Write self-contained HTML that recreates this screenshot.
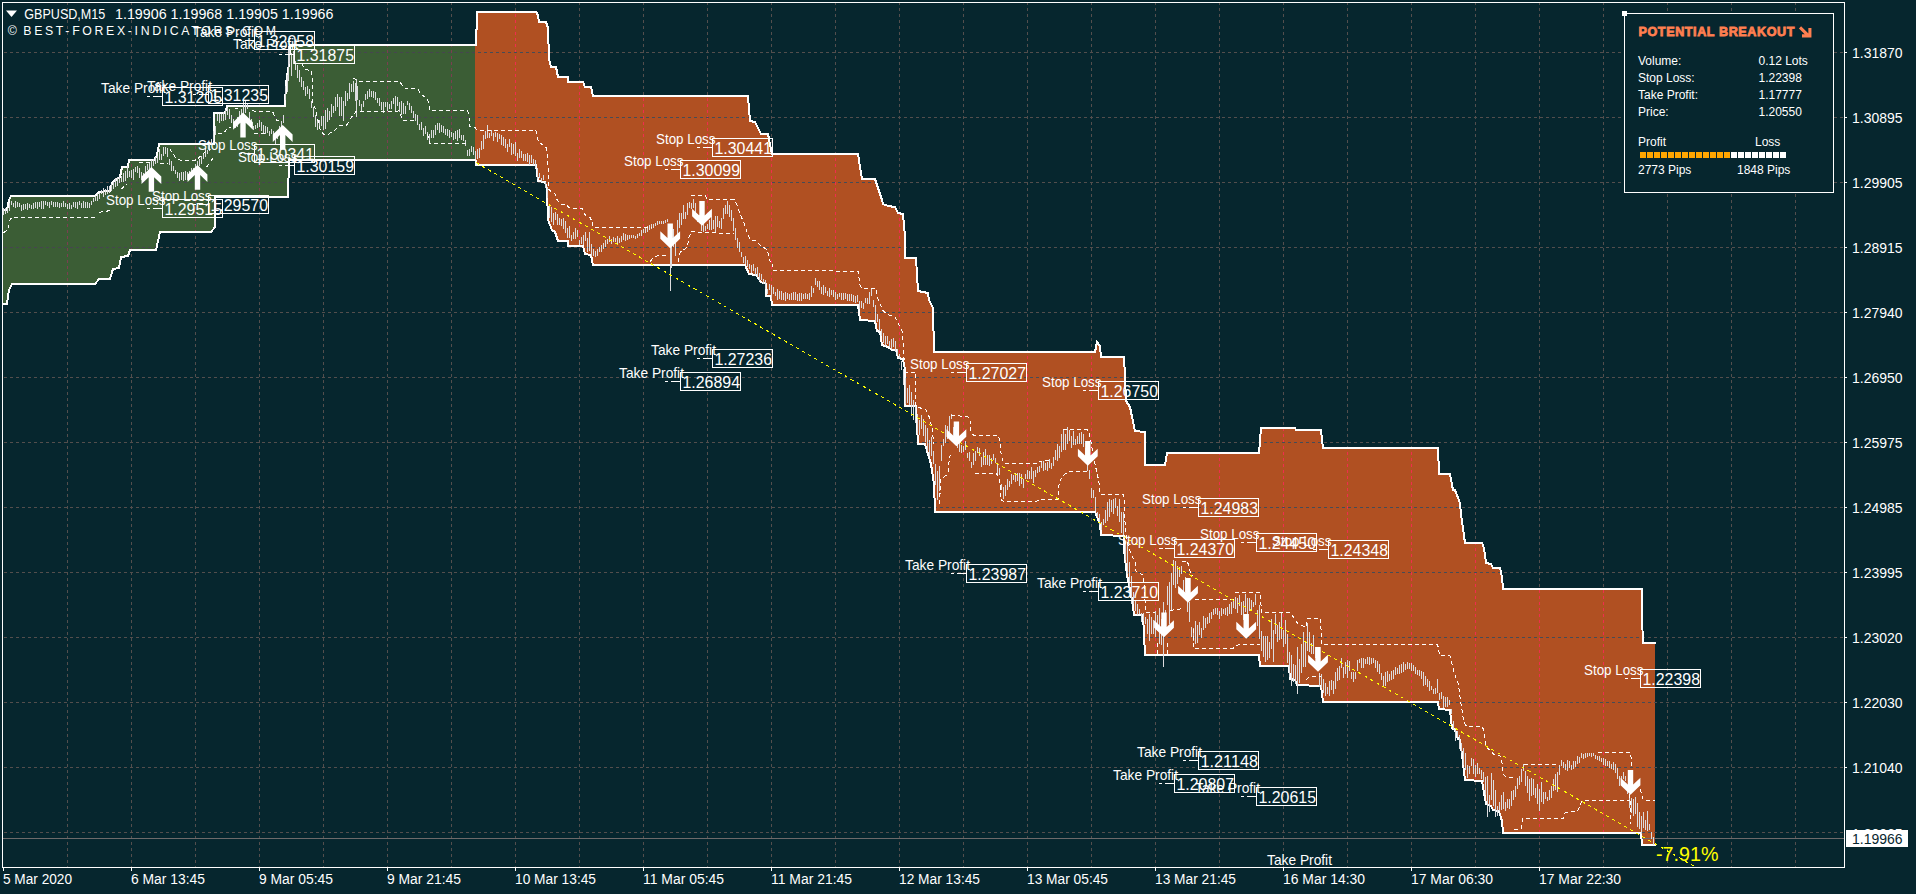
<!DOCTYPE html>
<html lang="en"><head><meta charset="utf-8"><title>GBPUSD M15 chart</title>
<style>
html,body{margin:0;padding:0;background:#06262e;}
body{width:1916px;height:894px;overflow:hidden;position:relative;font-family:"Liberation Sans", sans-serif;}
svg text{white-space:pre;}
</style></head><body>
<svg width="1916" height="894" viewBox="0 0 1916 894" style="position:absolute;left:0;top:0;display:block" font-family='"Liberation Sans", sans-serif'>
<defs>
<clipPath id="cg"><polygon points="3.0,209.8 7.0,209.8 9.4,200.4 11.0,196.4 94.7,196.4 98.7,191.7 109.6,191.0 112.0,183.0 114.0,181.0 120.0,176.8 121.6,166.8 128.0,166.8 129.4,160.5 154.4,160.5 156.6,155.0 158.7,144.2 214.2,144.2 214.2,113.0 225.2,113.0 226.6,106.2 285.1,106.2 286.5,82.8 288.7,63.8 289.5,45.0 475.0,45.0 475.0,160.0 289.2,160.0 288.3,196.7 215.0,196.7 215.0,226.7 211.3,231.8 160.1,231.8 156.5,249.7 130.0,249.7 127.6,256.0 121.4,256.7 119.0,268.5 112.7,269.3 110.4,278.7 98.7,278.7 94.7,284.1 11.7,284.1 9.4,289.6 7.0,303.7 3.0,304.5"/></clipPath>
<clipPath id="co"><polygon points="475.0,45.0 476.0,45.0 476.0,30.0 477.0,29.0 477.0,12.0 535.6,12.0 538.0,15.0 539.0,21.8 545.7,21.8 547.9,27.7 549.0,58.7 550.7,67.0 555.7,67.0 558.3,77.2 567.5,77.2 568.3,81.7 583.4,81.7 585.0,87.2 591.0,87.2 592.7,96.0 748.2,96.0 749.0,109.0 750.0,120.8 755.0,121.6 760.8,134.2 767.5,134.2 769.2,139.3 772.5,153.7 857.8,153.7 859.8,166.8 861.5,178.9 874.9,179.4 881.6,200.3 883.3,203.7 888.3,206.2 895.0,207.0 897.5,213.4 903.4,213.8 904.8,237.2 905.1,258.2 916.0,258.2 917.7,290.9 927.8,292.6 929.4,300.0 932.8,308.4 934.5,352.0 1095.0,352.0 1097.0,342.0 1100.1,346.0 1100.9,357.0 1123.6,357.0 1125.3,377.2 1126.1,400.7 1129.5,407.4 1132.0,417.4 1135.3,430.9 1144.6,432.0 1145.2,465.4 1165.3,465.4 1167.0,453.4 1259.3,453.4 1260.9,428.5 1295.3,428.5 1296.1,430.2 1321.3,430.2 1323.0,447.8 1437.5,447.8 1438.9,474.5 1449.5,474.5 1452.9,489.6 1455.4,490.5 1459.6,503.1 1461.2,514.0 1464.6,543.3 1482.2,543.3 1483.9,547.5 1485.6,562.6 1490.6,564.3 1493.1,568.5 1499.8,568.5 1502.3,576.8 1503.2,588.9 1641.6,588.9 1642.4,617.1 1643.0,643.0 1655.0,643.0 1655.0,845.0 1641.6,845.0 1640.8,833.4 1503.2,833.4 1502.3,820.8 1499.0,810.7 1493.1,809.9 1490.6,805.7 1485.6,804.0 1482.2,781.4 1464.6,780.5 1462.1,755.4 1459.6,740.3 1457.9,738.6 1455.4,730.2 1452.0,728.5 1449.5,710.0 1438.6,709.2 1437.8,701.7 1323.0,701.8 1321.3,685.5 1297.0,685.0 1295.3,680.0 1290.3,679.2 1288.6,665.8 1260.1,665.8 1259.3,654.9 1145.2,654.9 1142.7,615.4 1134.3,614.6 1131.7,600.3 1126.7,575.2 1124.2,550.0 1123.6,535.6 1101.2,535.0 1100.3,524.2 1095.3,512.4 935.1,512.4 934.2,483.9 930.9,463.8 925.0,444.0 917.5,443.6 915.8,405.9 905.1,405.7 905.1,370.5 902.6,358.7 897.5,357.9 895.9,350.3 891.7,350.3 888.3,347.0 882.4,345.3 879.9,331.9 877.4,331.0 874.9,321.0 859.8,320.1 858.1,305.0 771.5,305.0 771.0,296.3 765.8,295.5 765.5,284.2 760.8,282.5 755.8,275.0 749.0,274.2 744.9,264.9 592.7,264.9 591.0,254.9 585.1,254.0 583.4,245.6 568.3,245.6 567.5,241.4 558.3,241.4 554.9,232.2 551.5,230.5 548.2,220.5 547.3,190.3 544.8,181.9 538.1,181.0 535.6,165.1 476.0,165.0 476.0,161.0 475.0,160.0"/></clipPath>
<clipPath id="cc"><rect x="3" y="3" width="1841" height="864"/></clipPath>
<path id="ad" d="M-2.7,0H2.7V14.6L9.9,7.7V15.2L0,24.8L-9.9,15.2V7.7L-2.7,14.6Z" fill="#fff"/>
<path id="au" d="M-2.7,0H2.7V-14.6L9.9,-7.7V-15.2L0,-24.8L-9.9,-15.2V-7.7L-2.7,-14.6Z" fill="#fff"/>
</defs>
<rect width="1916" height="894" fill="#06262e"/>
<g shape-rendering="crispEdges" fill="none" stroke-width="1" stroke-dasharray="3,3"><path d="M67.5,2V867M131.5,2V867M195.5,2V867M259.5,2V867M323.5,2V867M387.5,2V867M451.5,2V867M515.5,2V867M579.5,2V867M643.5,2V867M707.5,2V867M771.5,2V867M835.5,2V867M899.5,2V867M963.5,2V867M1027.5,2V867M1091.5,2V867M1155.5,2V867M1219.5,2V867M1283.5,2V867M1347.5,2V867M1411.5,2V867M1475.5,2V867M1539.5,2V867M1603.5,2V867M1667.5,2V867M1731.5,2V867M1795.5,2V867" stroke="#534e4d"/><path d="M4,52.5H1844M4,117.5H1844M4,182.5H1844M4,247.5H1844M4,312.5H1844M4,377.5H1844M4,442.5H1844M4,507.5H1844M4,572.5H1844M4,637.5H1844M4,702.5H1844M4,767.5H1844M4,832.5H1844" stroke="#534e4d"/></g>
<polygon points="3.0,209.8 7.0,209.8 9.4,200.4 11.0,196.4 94.7,196.4 98.7,191.7 109.6,191.0 112.0,183.0 114.0,181.0 120.0,176.8 121.6,166.8 128.0,166.8 129.4,160.5 154.4,160.5 156.6,155.0 158.7,144.2 214.2,144.2 214.2,113.0 225.2,113.0 226.6,106.2 285.1,106.2 286.5,82.8 288.7,63.8 289.5,45.0 475.0,45.0 475.0,160.0 289.2,160.0 288.3,196.7 215.0,196.7 215.0,226.7 211.3,231.8 160.1,231.8 156.5,249.7 130.0,249.7 127.6,256.0 121.4,256.7 119.0,268.5 112.7,269.3 110.4,278.7 98.7,278.7 94.7,284.1 11.7,284.1 9.4,289.6 7.0,303.7 3.0,304.5" fill="#3b5d35"/>
<polygon points="475.0,45.0 476.0,45.0 476.0,30.0 477.0,29.0 477.0,12.0 535.6,12.0 538.0,15.0 539.0,21.8 545.7,21.8 547.9,27.7 549.0,58.7 550.7,67.0 555.7,67.0 558.3,77.2 567.5,77.2 568.3,81.7 583.4,81.7 585.0,87.2 591.0,87.2 592.7,96.0 748.2,96.0 749.0,109.0 750.0,120.8 755.0,121.6 760.8,134.2 767.5,134.2 769.2,139.3 772.5,153.7 857.8,153.7 859.8,166.8 861.5,178.9 874.9,179.4 881.6,200.3 883.3,203.7 888.3,206.2 895.0,207.0 897.5,213.4 903.4,213.8 904.8,237.2 905.1,258.2 916.0,258.2 917.7,290.9 927.8,292.6 929.4,300.0 932.8,308.4 934.5,352.0 1095.0,352.0 1097.0,342.0 1100.1,346.0 1100.9,357.0 1123.6,357.0 1125.3,377.2 1126.1,400.7 1129.5,407.4 1132.0,417.4 1135.3,430.9 1144.6,432.0 1145.2,465.4 1165.3,465.4 1167.0,453.4 1259.3,453.4 1260.9,428.5 1295.3,428.5 1296.1,430.2 1321.3,430.2 1323.0,447.8 1437.5,447.8 1438.9,474.5 1449.5,474.5 1452.9,489.6 1455.4,490.5 1459.6,503.1 1461.2,514.0 1464.6,543.3 1482.2,543.3 1483.9,547.5 1485.6,562.6 1490.6,564.3 1493.1,568.5 1499.8,568.5 1502.3,576.8 1503.2,588.9 1641.6,588.9 1642.4,617.1 1643.0,643.0 1655.0,643.0 1655.0,845.0 1641.6,845.0 1640.8,833.4 1503.2,833.4 1502.3,820.8 1499.0,810.7 1493.1,809.9 1490.6,805.7 1485.6,804.0 1482.2,781.4 1464.6,780.5 1462.1,755.4 1459.6,740.3 1457.9,738.6 1455.4,730.2 1452.0,728.5 1449.5,710.0 1438.6,709.2 1437.8,701.7 1323.0,701.8 1321.3,685.5 1297.0,685.0 1295.3,680.0 1290.3,679.2 1288.6,665.8 1260.1,665.8 1259.3,654.9 1145.2,654.9 1142.7,615.4 1134.3,614.6 1131.7,600.3 1126.7,575.2 1124.2,550.0 1123.6,535.6 1101.2,535.0 1100.3,524.2 1095.3,512.4 935.1,512.4 934.2,483.9 930.9,463.8 925.0,444.0 917.5,443.6 915.8,405.9 905.1,405.7 905.1,370.5 902.6,358.7 897.5,357.9 895.9,350.3 891.7,350.3 888.3,347.0 882.4,345.3 879.9,331.9 877.4,331.0 874.9,321.0 859.8,320.1 858.1,305.0 771.5,305.0 771.0,296.3 765.8,295.5 765.5,284.2 760.8,282.5 755.8,275.0 749.0,274.2 744.9,264.9 592.7,264.9 591.0,254.9 585.1,254.0 583.4,245.6 568.3,245.6 567.5,241.4 558.3,241.4 554.9,232.2 551.5,230.5 548.2,220.5 547.3,190.3 544.8,181.9 538.1,181.0 535.6,165.1 476.0,165.0 476.0,161.0 475.0,160.0" fill="#b05022"/>
<g shape-rendering="crispEdges" fill="none" stroke-width="1" stroke-dasharray="3,3" clip-path="url(#cg)"><path d="M67.5,2V867M131.5,2V867M195.5,2V867M259.5,2V867M323.5,2V867M387.5,2V867M451.5,2V867M515.5,2V867M579.5,2V867M643.5,2V867M707.5,2V867M771.5,2V867M835.5,2V867M899.5,2V867M963.5,2V867M1027.5,2V867M1091.5,2V867M1155.5,2V867M1219.5,2V867M1283.5,2V867M1347.5,2V867M1411.5,2V867M1475.5,2V867M1539.5,2V867M1603.5,2V867M1667.5,2V867M1731.5,2V867M1795.5,2V867" stroke="#7b3f50"/><path d="M4,52.5H1844M4,117.5H1844M4,182.5H1844M4,247.5H1844M4,312.5H1844M4,377.5H1844M4,442.5H1844M4,507.5H1844M4,572.5H1844M4,637.5H1844M4,702.5H1844M4,767.5H1844M4,832.5H1844" stroke="#46464f"/></g>
<g shape-rendering="crispEdges" fill="none" stroke-width="1" stroke-dasharray="3,3" clip-path="url(#co)"><path d="M67.5,2V867M131.5,2V867M195.5,2V867M259.5,2V867M323.5,2V867M387.5,2V867M451.5,2V867M515.5,2V867M579.5,2V867M643.5,2V867M707.5,2V867M771.5,2V867M835.5,2V867M899.5,2V867M963.5,2V867M1027.5,2V867M1091.5,2V867M1155.5,2V867M1219.5,2V867M1283.5,2V867M1347.5,2V867M1411.5,2V867M1475.5,2V867M1539.5,2V867M1603.5,2V867M1667.5,2V867M1731.5,2V867M1795.5,2V867" stroke="#f02e4c"/><path d="M4,52.5H1844M4,117.5H1844M4,182.5H1844M4,247.5H1844M4,312.5H1844M4,377.5H1844M4,442.5H1844M4,507.5H1844M4,572.5H1844M4,637.5H1844M4,702.5H1844M4,767.5H1844M4,832.5H1844" stroke="#464c56"/></g>
<path d="M3,838.5H1844" stroke="#6e6a6a" stroke-width="1" shape-rendering="crispEdges"/>
<polyline points="3,210 7,210 9,200 11,196 95,196 99,192 110,191 112,183 114,181 120,177 122,167 128,167 129,160 154,160 157,155 159,144 214,144 214,113 225,113 227,106 285,106 286,83 289,64 290,45 475,45" fill="none" stroke="#fff" stroke-width="2" stroke-linejoin="miter" shape-rendering="crispEdges"/>
<polyline points="3,304 7,304 9,290 12,284 95,284 99,279 110,279 113,269 119,268 121,257 128,256 130,250 156,250 160,232 211,232 215,227 215,197 288,197 289,160 475,160" fill="none" stroke="#fff" stroke-width="2" stroke-linejoin="miter" shape-rendering="crispEdges"/>
<polyline points="475,45 476,45 476,30 477,29 477,12 536,12 538,15 539,22 546,22 548,28 549,59 551,67 556,67 558,77 568,77 568,82 583,82 585,87 591,87 593,96 748,96 749,109 750,121 755,122 761,134 768,134 769,139 772,154 858,154 860,167 862,179 875,179 882,200 883,204 888,206 895,207 898,213 903,214 905,237 905,258 916,258 918,291 928,293 929,300 933,308 934,352 1095,352 1097,342 1100,346 1101,357 1124,357 1125,377 1126,401 1130,407 1132,417 1135,431 1145,432 1145,465 1165,465 1167,453 1259,453 1261,428 1295,428 1296,430 1321,430 1323,448 1438,448 1439,474 1450,474 1453,490 1455,490 1460,503 1461,514 1465,543 1482,543 1484,548 1486,563 1491,564 1493,568 1500,568 1502,577 1503,589 1642,589 1642,617 1643,643 1655,643 1656,643" fill="none" stroke="#fff" stroke-width="2" stroke-linejoin="miter" shape-rendering="crispEdges"/>
<polyline points="475,160 476,161 476,165 536,165 538,181 545,182 547,190 548,220 552,230 555,232 558,241 568,241 568,246 583,246 585,254 591,255 593,265 745,265 749,274 756,275 761,282 766,284 766,296 771,296 772,305 858,305 860,320 875,321 877,331 880,332 882,345 888,347 892,350 896,350 898,358 903,359 905,370 905,406 916,406 918,444 925,444 931,464 934,484 935,512 1095,512 1100,524 1101,535 1124,536 1124,550 1127,575 1132,600 1134,615 1143,615 1145,655 1259,655 1260,666 1289,666 1290,679 1295,680 1297,685 1321,686 1323,702 1438,702 1439,709 1450,710 1452,728 1455,730 1458,739 1460,740 1462,755 1465,780 1482,781 1486,804 1491,806 1493,810 1499,811 1502,821 1503,833 1641,833 1642,845 1655,845 1656,845" fill="none" stroke="#fff" stroke-width="2" stroke-linejoin="miter" shape-rendering="crispEdges"/>
<path d="M3.5,208V215M5.5,208V214M7.5,208V213M9.5,203V211M11.5,201V205M13.5,203V207M15.5,201V208M17.5,202V207M19.5,203V207M21.5,205V211M23.5,204V210M25.5,204V209M27.5,203V210M29.5,204V208M31.5,205V209M33.5,203V209M35.5,202V208M37.5,202V209M39.5,202V207M41.5,201V209M43.5,201V209M45.5,201V205M47.5,202V206M49.5,202V208M51.5,201V205M53.5,202V207M55.5,202V207M57.5,202V207M59.5,203V208M61.5,203V207M63.5,201V207M65.5,203V207M67.5,204V209M69.5,203V209M71.5,205V209M73.5,202V207M75.5,202V208M77.5,202V209M79.5,201V205M81.5,203V208M83.5,201V208M85.5,202V208M87.5,202V208M89.5,203V208M91.5,201V205M93.5,198V202M95.5,196V201M97.5,194V201M99.5,193V199M101.5,190V194M103.5,188V197M105.5,189V195M107.5,186V194M109.5,186V193M111.5,184V191M113.5,182V189M115.5,178V187M117.5,177V186M119.5,177V183M121.5,176V182M123.5,173V182M125.5,171V181M127.5,166V178M129.5,171V177M131.5,170V178M133.5,169V180M135.5,167V172M137.5,166V173M139.5,168V178M141.5,172V180M143.5,173V181M145.5,166V177M147.5,164V170M149.5,163V173M151.5,160V169M153.5,159V166M155.5,157V164M157.5,156V163M159.5,149V160M161.5,154V160M163.5,147V156M165.5,147V154M167.5,148V157M169.5,159V165M171.5,161V171M173.5,166V171M175.5,170V174M177.5,172V178M179.5,173V181M181.5,172V180M183.5,172V181M185.5,171V180M187.5,172V180M189.5,171V179M191.5,168V177M193.5,168V173M195.5,164V171M197.5,161V169M199.5,159V166M201.5,156V164M203.5,154V159M205.5,148V157M207.5,150V154M209.5,144V151M211.5,139V144M213.5,131V141M215.5,126V135M217.5,114V121M219.5,114V123M221.5,114V121M223.5,112V121M225.5,110V120M227.5,108V115M229.5,109V119M231.5,115V123M233.5,119V127M235.5,124V128M237.5,117V127M239.5,111V118M241.5,109V119M243.5,102V109M245.5,101V113M247.5,104V109M249.5,112V121M251.5,119V126M253.5,126V130M255.5,125V129M257.5,123V128M259.5,120V127M261.5,122V131M263.5,125V133M265.5,126V134M267.5,127V133M269.5,131V136M271.5,129V134M273.5,131V137M275.5,136V144M277.5,131V139M279.5,126V135M281.5,121V127M283.5,115V123M285.5,86V100M287.5,75V92M289.5,50V64M291.5,53V76M293.5,51V64M295.5,61V70M297.5,65V78M299.5,70V82M301.5,77V87M303.5,81V90M305.5,87V96M307.5,86V94M309.5,89V99M311.5,101V108M313.5,107V117M315.5,115V127M317.5,119V130M319.5,120V129M321.5,116V126M323.5,116V130M325.5,110V129M327.5,108V122M329.5,111V120M331.5,104V117M333.5,106V113M335.5,97V111M337.5,94V107M339.5,97V116M341.5,97V116M343.5,101V121M345.5,91V106M347.5,93V101M349.5,83V99M351.5,84V92M353.5,81V92M355.5,83V101M357.5,86V100M359.5,100V106M361.5,104V112M363.5,101V107M365.5,94V100M367.5,91V99M369.5,89V97M371.5,91V97M373.5,91V98M375.5,92V100M377.5,98V103M379.5,98V106M381.5,102V110M383.5,102V113M385.5,102V107M387.5,102V111M389.5,104V109M391.5,101V109M393.5,98V104M395.5,96V111M397.5,97V106M399.5,102V112M401.5,101V115M403.5,103V114M405.5,106V114M407.5,101V105M409.5,103V110M411.5,106V113M413.5,111V118M415.5,114V121M417.5,115V125M419.5,124V130M421.5,122V130M423.5,128V136M425.5,126V134M427.5,132V140M429.5,134V141M431.5,130V138M433.5,130V138M435.5,125V135M437.5,123V130M439.5,123V133M441.5,125V132M443.5,126V133M445.5,129V135M447.5,129V136M449.5,130V138M451.5,132V137M453.5,133V140M455.5,131V139M457.5,130V141M459.5,129V138M461.5,135V140M463.5,135V141M465.5,140V146M467.5,150V156M469.5,149V156M471.5,146V152M473.5,147V155M475.5,151V159M477.5,149V159M479.5,148V158M481.5,141V150M483.5,135V149M485.5,131V139M487.5,125V138M489.5,133V138M491.5,130V136M493.5,133V141M495.5,132V137M497.5,133V142M499.5,134V139M501.5,135V145M503.5,137V146M505.5,139V148M507.5,144V152M509.5,139V147M511.5,143V155M513.5,144V154M515.5,142V156M517.5,153V161M519.5,149V158M521.5,151V158M523.5,154V161M525.5,154V161M527.5,153V162M529.5,155V165M531.5,155V163M533.5,159V165M535.5,160V168M537.5,168V179M539.5,173V178M541.5,178V182M543.5,175V180M545.5,182V188M547.5,187V198M549.5,206V218M551.5,207V222M553.5,213V225M555.5,212V220M557.5,214V225M559.5,218V225M561.5,219V226M563.5,218V229M565.5,221V233M567.5,228V238M569.5,226V238M571.5,235V241M573.5,232V239M575.5,228V239M577.5,230V237M579.5,240V245M581.5,237V244M583.5,235V245M585.5,232V241M587.5,238V252M589.5,232V251M591.5,244V256M593.5,249V256M595.5,251V257M597.5,249V256M599.5,247V252M601.5,245V252M603.5,243V249M605.5,240V247M607.5,239V244M609.5,236V242M611.5,239V244M613.5,237V242M615.5,238V242M617.5,236V244M619.5,238V243M621.5,236V242M623.5,233V240M625.5,234V241M627.5,235V240M629.5,235V239M631.5,235V238M633.5,235V238M635.5,236V239M637.5,234V238M639.5,233V236M641.5,230V236M643.5,229V233M645.5,227V233M647.5,226V232M649.5,225V230M651.5,224V229M653.5,224V228M655.5,223V226M657.5,221V225M659.5,221V224M661.5,221V224M663.5,221V224M665.5,220V223M667.5,219V222M669.5,224V242M671.5,243V268M673.5,229V247M675.5,239V256M677.5,220V239M679.5,213V228M681.5,213V225M683.5,205V219M685.5,212V219M687.5,203V215M689.5,202V208M691.5,203V209M693.5,199V208M695.5,203V216M697.5,214V222M699.5,215V223M701.5,220V231M703.5,220V232M705.5,226V231M707.5,224V229M709.5,220V230M711.5,216V230M713.5,220V229M715.5,216V232M717.5,216V227M719.5,221V228M721.5,218V229M723.5,208V219M725.5,205V214M727.5,201V214M729.5,205V217M731.5,210V221M733.5,218V231M735.5,228V240M737.5,238V248M739.5,242V252M741.5,252V257M743.5,257V263M745.5,256V264M747.5,260V267M749.5,264V269M751.5,265V273M753.5,264V271M755.5,268V275M757.5,267V277M759.5,273V281M761.5,274V280M763.5,279V284M765.5,280V289M767.5,289V294M769.5,284V290M771.5,285V299M773.5,287V294M775.5,292V296M777.5,289V300M779.5,291V299M781.5,291V300M783.5,293V300M785.5,292V301M787.5,293V299M789.5,294V300M791.5,293V300M793.5,292V300M795.5,292V300M797.5,294V301M799.5,293V301M801.5,293V301M803.5,294V299M805.5,293V299M807.5,294V299M809.5,293V300M811.5,286V297M813.5,288V293M815.5,278V285M817.5,281V287M819.5,281V290M821.5,287V294M823.5,285V295M825.5,287V293M827.5,291V296M829.5,288V297M831.5,290V295M833.5,290V297M835.5,292V300M837.5,294V299M839.5,293V297M841.5,293V300M843.5,293V300M845.5,293V299M847.5,294V301M849.5,294V301M851.5,294V301M853.5,295V302M855.5,296V303M857.5,295V302M859.5,301V309M861.5,301V308M863.5,303V309M865.5,298V303M867.5,298V304M869.5,292V304M871.5,289V296M873.5,300V307M875.5,305V321M877.5,314V322M879.5,319V331M881.5,329V336M883.5,333V343M885.5,336V346M887.5,336V344M889.5,341V347M891.5,339V349M893.5,338V347M895.5,341V352M897.5,349V355M899.5,354V358M901.5,361V370M903.5,369V385M905.5,378V404M907.5,388V403M909.5,385V405M911.5,392V416M913.5,400V420M915.5,406V423M917.5,414V434M919.5,420V435M921.5,415V429M923.5,419V436M925.5,425V442M927.5,428V451M929.5,440V456M931.5,437V456M933.5,451V464M935.5,464V485M937.5,478V493M939.5,466V491M941.5,445V461M943.5,439V446M945.5,425V443M947.5,426V439M949.5,416V436M951.5,414V419M953.5,427V438M955.5,435V440M957.5,441V448M959.5,443V452M961.5,445V453M963.5,446V452M965.5,441V450M967.5,453V458M969.5,452V461M971.5,462V468M973.5,453V465M975.5,451V461M977.5,447V453M979.5,448V456M981.5,457V467M983.5,452V465M985.5,449V465M987.5,455V465M989.5,455V466M991.5,458V464M993.5,454V460M995.5,458V463M997.5,463V475M999.5,468V475M1001.5,484V490M1003.5,487V499M1005.5,485V496M1007.5,479V490M1009.5,481V487M1011.5,474V484M1013.5,475V480M1015.5,473V482M1017.5,473V481M1019.5,473V486M1021.5,474V484M1023.5,479V488M1025.5,474V479M1027.5,470V479M1029.5,471V479M1031.5,467V479M1033.5,471V483M1035.5,470V477M1037.5,467V473M1039.5,466V472M1041.5,462V468M1043.5,461V471M1045.5,463V470M1047.5,462V471M1049.5,459V468M1051.5,463V469M1053.5,457V466M1055.5,450V460M1057.5,444V461M1059.5,446V458M1061.5,434V452M1063.5,430V450M1065.5,434V450M1067.5,427V444M1069.5,430V441M1071.5,436V448M1073.5,431V445M1075.5,439V445M1077.5,436V444M1079.5,433V444M1081.5,432V444M1083.5,434V447M1085.5,448V460M1087.5,461V471M1089.5,470V479M1091.5,488V498M1093.5,490V498M1095.5,497V511M1097.5,512V517M1099.5,514V525M1101.5,522V530M1103.5,519V525M1105.5,510V523M1107.5,502V521M1109.5,499V517M1111.5,500V512M1113.5,499V514M1115.5,498V508M1117.5,506V516M1119.5,499V522M1121.5,512V533M1123.5,512V538M1125.5,542V560M1127.5,544V574M1129.5,562V593M1131.5,576V604M1133.5,592V604M1135.5,601V611M1137.5,604V615M1139.5,609V614M1141.5,613V622M1143.5,613V621M1145.5,617V624M1147.5,619V634M1149.5,614V641M1151.5,617V634M1153.5,620V634M1155.5,611V637M1157.5,615V631M1159.5,608V644M1161.5,619V645M1163.5,605V653M1165.5,610V625M1167.5,586V605M1169.5,582V624M1171.5,573V611M1173.5,560V585M1175.5,561V588M1177.5,566V584M1179.5,567V577M1181.5,566V574M1183.5,580V593M1185.5,577V592M1187.5,597V612M1189.5,602V622M1191.5,627V637M1193.5,628V641M1195.5,621V644M1197.5,625V643M1199.5,622V635M1201.5,628V638M1203.5,616V630M1205.5,618V628M1207.5,617V624M1209.5,613V623M1211.5,612V619M1213.5,609V615M1215.5,608V614M1217.5,608V615M1219.5,611V619M1221.5,608V616M1223.5,609V614M1225.5,608V615M1227.5,607V616M1229.5,604V614M1231.5,602V614M1233.5,600V608M1235.5,597V609M1237.5,598V613M1239.5,595V606M1241.5,602V615M1243.5,601V620M1245.5,594V612M1247.5,598V615M1249.5,598V611M1251.5,600V610M1253.5,602V607M1255.5,594V605M1257.5,610V626M1259.5,605V639M1261.5,631V651M1263.5,636V657M1265.5,636V662M1267.5,636V660M1269.5,642V658M1271.5,619V649M1273.5,630V662M1275.5,614V634M1277.5,625V642M1279.5,622V640M1281.5,613V639M1283.5,630V647M1285.5,620V644M1287.5,634V663M1289.5,652V677M1291.5,657V678M1293.5,664V682M1295.5,665V684M1297.5,647V667M1299.5,659V683M1301.5,644V673M1303.5,632V667M1305.5,641V667M1307.5,623V651M1309.5,632V652M1311.5,643V654M1313.5,635V654M1315.5,647V658M1317.5,655V670M1319.5,673V687M1321.5,674V688M1323.5,679V693M1325.5,683V696M1327.5,687V694M1329.5,681V696M1331.5,680V690M1333.5,681V694M1335.5,672V689M1337.5,668V681M1339.5,666V680M1341.5,658V668M1343.5,667V678M1345.5,662V674M1347.5,660V678M1349.5,661V671M1351.5,672V679M1353.5,672V682M1355.5,672V679M1357.5,660V671M1359.5,659V663M1361.5,658V668M1363.5,658V668M1365.5,659V664M1367.5,657V664M1369.5,657V665M1371.5,658V664M1373.5,658V663M1375.5,660V668M1377.5,661V672M1379.5,664V674M1381.5,673V680M1383.5,676V686M1385.5,672V686M1387.5,671V682M1389.5,674V681M1391.5,671V680M1393.5,670V679M1395.5,667V675M1397.5,668V674M1399.5,665V674M1401.5,664V673M1403.5,662V672M1405.5,664V670M1407.5,662V669M1409.5,663V669M1411.5,663V671M1413.5,665V671M1415.5,667V674M1417.5,670V675M1419.5,670V676M1421.5,671V679M1423.5,672V686M1425.5,676V685M1427.5,679V687M1429.5,681V691M1431.5,686V690M1433.5,689V694M1435.5,688V694M1437.5,679V693M1439.5,693V700M1441.5,692V699M1443.5,696V708M1445.5,697V707M1447.5,697V707M1449.5,700V705M1451.5,709V714M1453.5,721V729M1455.5,730V741M1457.5,731V737M1459.5,735V749M1461.5,743V753M1463.5,748V765M1465.5,753V770M1467.5,765V778M1469.5,766V774M1471.5,758V766M1473.5,759V774M1475.5,765V777M1477.5,763V774M1479.5,768V774M1481.5,770V779M1483.5,772V782M1485.5,777V795M1487.5,782V803M1489.5,795V812M1491.5,773V800M1493.5,780V806M1495.5,790V808M1497.5,806V816M1499.5,802V811M1501.5,795V810M1503.5,792V809M1505.5,802V811M1507.5,799V808M1509.5,799V809M1511.5,791V806M1513.5,790V800M1515.5,786V797M1517.5,778V789M1519.5,776V785M1521.5,769V782M1523.5,764V771M1525.5,771V786M1527.5,776V793M1529.5,779V801M1531.5,778V796M1533.5,779V795M1535.5,788V798M1537.5,784V804M1539.5,789V811M1541.5,782V802M1543.5,792V804M1545.5,792V799M1547.5,797V801M1549.5,790V800M1551.5,786V798M1553.5,779V791M1555.5,774V790M1557.5,772V792M1559.5,765V775M1561.5,760V766M1563.5,762V768M1565.5,764V770M1567.5,760V771M1569.5,761V768M1571.5,765V770M1573.5,761V769M1575.5,761V767M1577.5,756V764M1579.5,757V763M1581.5,753V758M1583.5,754V759M1585.5,753V758M1587.5,753V757M1589.5,753V756M1591.5,753V757M1593.5,753V756M1595.5,755V759M1597.5,756V760M1599.5,756V761M1601.5,758V762M1603.5,758V765M1605.5,759V766M1607.5,761V766M1609.5,761V768M1611.5,764V769M1613.5,762V770M1615.5,764V773M1617.5,768V779M1619.5,776V786M1621.5,776V781M1623.5,772V779M1625.5,776V781M1627.5,785V794M1629.5,794V808M1631.5,798V813M1633.5,799V816M1635.5,797V814M1637.5,803V827M1639.5,812V829M1641.5,816V834M1643.5,812V828M1645.5,820V830M1647.5,811V831M1649.5,824V830M1651.5,832V839M1653.5,837V845M670.5,224V291M1163.5,602V667M1297.5,650V694M1291.5,655V686M1487.5,776V817M1495.5,791V817M937.5,471V500M356.5,79V117M288.5,46V81M243.5,99V115" stroke="#dcdcdf" stroke-width="1" fill="none" shape-rendering="crispEdges"/>
<path d="M3.4,233.0L8.4,229.0L9.7,220.5L11.7,217.4L96.5,217.4M99.0,212.4L110.0,210.6M120.8,189.4L127.5,183.6M139.0,162.4L152.8,163.0M160.0,163.8L167.5,163.8M169.6,148.5L176.2,158.7L180.6,160.2L195.2,160.2L198.0,158.7L205.4,151.4M206.9,166.8L214.2,156.5M217.9,133.3L223.7,133.3L225.9,130.3L228.1,127.7L230.6,127.7M234.7,108.4L238.3,108.4M252.2,110.6L258.0,111.8L272.7,111.8L274.9,117.2L277.0,120.5L280.0,120.5M253.7,133.3L265.4,134.0M301.9,63.8L304.8,69.7L311.4,70.4L312.1,78.5L312.1,101.8L315.0,107.7L320.0,129.0L323.4,134.2L328.4,134.2L336.0,129.2L340.0,125.5L346.8,125.0L349.4,120.0L352.7,115.8L356.0,111.6L398.9,111.0L400.5,114.0L402.2,120.0L414.0,120.0M427.4,134.2L430.0,143.5L431.6,143.5L466.0,143.5M352.7,78.0L359.4,81.4L399.7,81.4L402.2,85.6L405.6,88.4L417.3,88.4L420.7,94.0L426.5,98.0L429.0,103.2L429.4,110.0L431.6,110.4L467.7,110.4L469.0,117.4L469.3,125.8L471.8,127.9L475.2,127.9L476.9,130.0L535.6,130.0L536.8,134.2L538.1,140.0L541.5,144.3L545.7,146.0L546.5,150.0L547.9,160.0L548.2,175.0L549.0,189.4L552.4,192.8L554.9,193.3L556.6,198.7L559.0,202.9L561.6,204.5L566.6,204.5L569.2,207.9L582.6,208.4L583.8,212.9L586.8,217.0L590.0,217.4L592.1,222.0L593.5,227.5L596.8,227.5L652.0,227.5M650.0,261.6L653.4,257.4L658.5,255.4L667.7,254.9M678.6,261.6L679.4,254.0L682.0,249.8L685.3,249.0L687.8,245.6L688.3,238.9L690.3,234.7L690.3,231.7L734.0,233.9M691.2,195.3L705.4,195.3L707.0,199.5L734.0,199.5L736.5,203.7L740.7,215.4L744.9,225.5L748.2,235.6L750.7,239.8L755.8,240.6L760.8,245.6L767.5,249.8L769.2,260.7L772.5,261.6L773.4,270.8L858.1,271.1L859.8,284.2L861.5,288.4L875.7,288.4L877.4,297.7L879.9,303.4L882.4,310.0L886.6,314.3L895.0,316.8L899.2,325.2L902.6,331.9L903.8,355.4L905.1,372.0L915.2,372.0L916.0,407.0L925.8,409.2L929.2,416.8L932.6,430.2L933.4,444.0M939.3,504.0L941.0,478.9L946.0,475.5L948.5,471.3L949.3,457.0L951.8,452.9M951.0,415.1L967.8,416.8L970.3,421.8L971.1,432.7L973.7,435.2L998.0,435.2L999.7,440.3L1000.5,450.3L1002.2,458.7L1003.9,463.4L1037.4,463.4L1039.0,461.2L1051.7,460.4M974.5,473.3L996.3,473.3L999.7,478.9L1001.3,500.7L1006.4,501.5L1036.6,501.5L1040.0,499.0L1058.4,499.0L1058.4,495.6L1059.2,482.2L1063.4,475.5L1068.5,471.3L1088.6,471.3M1063.4,429.4L1086.9,429.4L1089.4,433.6L1095.3,465.4L1098.7,480.5L1100.3,494.0L1123.6,494.5L1124.4,505.4L1125.3,530.5L1127.8,544.0L1131.1,554.0L1135.2,562.8L1136.1,571.4L1143.7,575.2L1145.6,612.3L1155.2,612.3M1170.4,610.4L1183.7,608.5M1159.0,548.6L1165.6,548.6M1181.8,561.0L1187.5,561.0L1189.4,570.4L1193.2,576.0M1195.0,599.3L1235.0,599.3M1235.0,592.3L1259.8,592.3L1260.7,597.0L1261.3,612.3L1290.2,612.3L1297.8,623.7L1306.4,627.5L1307.3,618.9L1320.6,618.9L1321.6,644.2L1437.6,644.2L1439.5,655.0L1450.0,656.0L1453.7,671.2L1458.5,684.5L1460.4,700.0L1463.8,721.8L1466.3,726.0L1482.2,726.0L1484.7,733.6L1485.6,745.3L1488.9,749.5L1494.0,754.5L1499.8,755.4L1502.3,763.8L1503.2,773.8L1505.7,777.2L1514.0,777.2M1157.0,642.7L1157.0,654.0M1167.5,642.7L1167.5,654.0M1193.2,629.4L1193.2,648.4L1233.1,648.4L1238.8,644.2L1259.8,644.2M1306.4,679.8L1309.2,676.9L1320.6,676.9M1524.2,764.3L1559.4,764.3M1598.0,752.3L1629.9,752.3L1631.2,757.9L1631.5,767.0M1640.0,789.0L1643.3,800.3L1655.0,800.3M1514.0,830.0L1521.6,828.4L1522.5,819.0L1524.2,818.3L1563.6,818.3L1565.3,812.4L1577.9,810.7L1580.4,804.0L1582.0,800.7L1629.9,800.3M1629.9,794.0L1630.7,824.0" stroke="#fff" stroke-width="1" stroke-dasharray="4,3" fill="none" shape-rendering="crispEdges"/>
<path d="M476,162.6L1697,868" stroke="#ffff00" stroke-width="1" stroke-dasharray="3.2,3.78" fill="none" clip-path="url(#cc)" shape-rendering="crispEdges"/>
<use href="#ad" x="956.4" y="421.5"/>
<use href="#ad" x="1087.8" y="441"/>
<use href="#ad" x="670.2" y="223.5"/>
<use href="#ad" x="702" y="201"/>
<use href="#ad" x="1188" y="578"/>
<use href="#ad" x="1164" y="612.5"/>
<use href="#ad" x="1246.2" y="614"/>
<use href="#ad" x="1318" y="647"/>
<use href="#ad" x="1630.5" y="770"/>
<use href="#au" x="151.4" y="191.8"/>
<use href="#au" x="197.5" y="189.7"/>
<use href="#au" x="243" y="137.4"/>
<use href="#au" x="282.7" y="149.7"/>
<g fill="#fff">
<text x="101" y="93" font-size="14.4" textLength="65" lengthAdjust="spacingAndGlyphs">Take Profit</text>
<path d="M147,96.5h3m2.5,0h9.5" stroke="#fff" stroke-width="1" shape-rendering="crispEdges"/>
<rect x="162.5" y="87.5" width="60" height="18" fill="none" stroke="#fff" stroke-width="1" shape-rendering="crispEdges"/>
<text x="164.5" y="103" font-size="16.4" textLength="57.5" lengthAdjust="spacingAndGlyphs">1.31205</text>
<text x="147" y="91" font-size="14.4" textLength="65" lengthAdjust="spacingAndGlyphs">Take Profit</text>
<path d="M193,94.5h3m2.5,0h9.5" stroke="#fff" stroke-width="1" shape-rendering="crispEdges"/>
<rect x="208.5" y="85.5" width="60" height="18" fill="none" stroke="#fff" stroke-width="1" shape-rendering="crispEdges"/>
<text x="210.5" y="101" font-size="16.4" textLength="57.5" lengthAdjust="spacingAndGlyphs">1.31235</text>
<text x="193" y="37" font-size="14.4" textLength="65" lengthAdjust="spacingAndGlyphs">Take Profit</text>
<path d="M239,40.5h3m2.5,0h9.5" stroke="#fff" stroke-width="1" shape-rendering="crispEdges"/>
<rect x="254.5" y="31.5" width="60" height="18" fill="none" stroke="#fff" stroke-width="1" shape-rendering="crispEdges"/>
<text x="256.5" y="47" font-size="16.4" textLength="57.5" lengthAdjust="spacingAndGlyphs">1.32058</text>
<text x="233" y="48.7" font-size="14.4" textLength="65" lengthAdjust="spacingAndGlyphs">Take Profit</text>
<path d="M279,54.5h3m2.5,0h9.5" stroke="#fff" stroke-width="1" shape-rendering="crispEdges"/>
<rect x="294.5" y="45.5" width="60" height="18" fill="none" stroke="#fff" stroke-width="1" shape-rendering="crispEdges"/>
<text x="296.5" y="61" font-size="16.4" textLength="57.5" lengthAdjust="spacingAndGlyphs">1.31875</text>
<text x="106" y="205" font-size="14.4" textLength="59.5" lengthAdjust="spacingAndGlyphs">Stop Loss</text>
<path d="M147,208.5h3m2.5,0h9.5" stroke="#fff" stroke-width="1" shape-rendering="crispEdges"/>
<rect x="162.5" y="199.5" width="60" height="18" fill="none" stroke="#fff" stroke-width="1" shape-rendering="crispEdges"/>
<text x="164.5" y="215" font-size="16.4" textLength="57.5" lengthAdjust="spacingAndGlyphs">1.29515</text>
<text x="152" y="201" font-size="14.4" textLength="59.5" lengthAdjust="spacingAndGlyphs">Stop Loss</text>
<path d="M193,204.5h3m2.5,0h9.5" stroke="#fff" stroke-width="1" shape-rendering="crispEdges"/>
<rect x="208.5" y="195.5" width="60" height="18" fill="none" stroke="#fff" stroke-width="1" shape-rendering="crispEdges"/>
<text x="210.5" y="211" font-size="16.4" textLength="57.5" lengthAdjust="spacingAndGlyphs">1.29570</text>
<text x="198" y="150" font-size="14.4" textLength="59.5" lengthAdjust="spacingAndGlyphs">Stop Loss</text>
<path d="M239,153.5h3m2.5,0h9.5" stroke="#fff" stroke-width="1" shape-rendering="crispEdges"/>
<rect x="254.5" y="144.5" width="60" height="18" fill="none" stroke="#fff" stroke-width="1" shape-rendering="crispEdges"/>
<text x="256.5" y="160" font-size="16.4" textLength="57.5" lengthAdjust="spacingAndGlyphs">1.30341</text>
<text x="238" y="162" font-size="14.4" textLength="59.5" lengthAdjust="spacingAndGlyphs">Stop Loss</text>
<path d="M279,165.5h3m2.5,0h9.5" stroke="#fff" stroke-width="1" shape-rendering="crispEdges"/>
<rect x="294.5" y="156.5" width="60" height="18" fill="none" stroke="#fff" stroke-width="1" shape-rendering="crispEdges"/>
<text x="296.5" y="172" font-size="16.4" textLength="57.5" lengthAdjust="spacingAndGlyphs">1.30159</text>
<text x="656" y="144" font-size="14.4" textLength="59.5" lengthAdjust="spacingAndGlyphs">Stop Loss</text>
<path d="M697,147.5h3m2.5,0h9.5" stroke="#fff" stroke-width="1" shape-rendering="crispEdges"/>
<rect x="712.5" y="138.5" width="60" height="18" fill="none" stroke="#fff" stroke-width="1" shape-rendering="crispEdges"/>
<text x="714.5" y="154" font-size="16.4" textLength="57.5" lengthAdjust="spacingAndGlyphs">1.30441</text>
<text x="624" y="166" font-size="14.4" textLength="59.5" lengthAdjust="spacingAndGlyphs">Stop Loss</text>
<path d="M665,169.5h3m2.5,0h9.5" stroke="#fff" stroke-width="1" shape-rendering="crispEdges"/>
<rect x="680.5" y="160.5" width="60" height="18" fill="none" stroke="#fff" stroke-width="1" shape-rendering="crispEdges"/>
<text x="682.5" y="176" font-size="16.4" textLength="57.5" lengthAdjust="spacingAndGlyphs">1.30099</text>
<text x="651" y="355" font-size="14.4" textLength="65" lengthAdjust="spacingAndGlyphs">Take Profit</text>
<path d="M697,358.5h3m2.5,0h9.5" stroke="#fff" stroke-width="1" shape-rendering="crispEdges"/>
<rect x="712.5" y="349.5" width="60" height="18" fill="none" stroke="#fff" stroke-width="1" shape-rendering="crispEdges"/>
<text x="714.5" y="365" font-size="16.4" textLength="57.5" lengthAdjust="spacingAndGlyphs">1.27236</text>
<text x="619" y="378" font-size="14.4" textLength="65" lengthAdjust="spacingAndGlyphs">Take Profit</text>
<path d="M665,381.5h3m2.5,0h9.5" stroke="#fff" stroke-width="1" shape-rendering="crispEdges"/>
<rect x="680.5" y="372.5" width="60" height="18" fill="none" stroke="#fff" stroke-width="1" shape-rendering="crispEdges"/>
<text x="682.5" y="388" font-size="16.4" textLength="57.5" lengthAdjust="spacingAndGlyphs">1.26894</text>
<text x="910" y="369" font-size="14.4" textLength="59.5" lengthAdjust="spacingAndGlyphs">Stop Loss</text>
<path d="M951,372.5h3m2.5,0h9.5" stroke="#fff" stroke-width="1" shape-rendering="crispEdges"/>
<rect x="966.5" y="363.5" width="60" height="18" fill="none" stroke="#fff" stroke-width="1" shape-rendering="crispEdges"/>
<text x="968.5" y="379" font-size="16.4" textLength="57.5" lengthAdjust="spacingAndGlyphs">1.27027</text>
<text x="1042" y="387" font-size="14.4" textLength="59.5" lengthAdjust="spacingAndGlyphs">Stop Loss</text>
<path d="M1083,390.5h3m2.5,0h9.5" stroke="#fff" stroke-width="1" shape-rendering="crispEdges"/>
<rect x="1098.5" y="381.5" width="60" height="18" fill="none" stroke="#fff" stroke-width="1" shape-rendering="crispEdges"/>
<text x="1100.5" y="397" font-size="16.4" textLength="57.5" lengthAdjust="spacingAndGlyphs">1.26750</text>
<text x="905" y="570" font-size="14.4" textLength="65" lengthAdjust="spacingAndGlyphs">Take Profit</text>
<path d="M951,573.5h3m2.5,0h9.5" stroke="#fff" stroke-width="1" shape-rendering="crispEdges"/>
<rect x="966.5" y="564.5" width="60" height="18" fill="none" stroke="#fff" stroke-width="1" shape-rendering="crispEdges"/>
<text x="968.5" y="580" font-size="16.4" textLength="57.5" lengthAdjust="spacingAndGlyphs">1.23987</text>
<text x="1037" y="588" font-size="14.4" textLength="65" lengthAdjust="spacingAndGlyphs">Take Profit</text>
<path d="M1083,591.5h3m2.5,0h9.5" stroke="#fff" stroke-width="1" shape-rendering="crispEdges"/>
<rect x="1098.5" y="582.5" width="60" height="18" fill="none" stroke="#fff" stroke-width="1" shape-rendering="crispEdges"/>
<text x="1100.5" y="598" font-size="16.4" textLength="57.5" lengthAdjust="spacingAndGlyphs">1.23710</text>
<text x="1142" y="504" font-size="14.4" textLength="59.5" lengthAdjust="spacingAndGlyphs">Stop Loss</text>
<path d="M1183,507.5h3m2.5,0h9.5" stroke="#fff" stroke-width="1" shape-rendering="crispEdges"/>
<rect x="1198.5" y="498.5" width="60" height="18" fill="none" stroke="#fff" stroke-width="1" shape-rendering="crispEdges"/>
<text x="1200.5" y="514" font-size="16.4" textLength="57.5" lengthAdjust="spacingAndGlyphs">1.24983</text>
<text x="1118" y="545" font-size="14.4" textLength="59.5" lengthAdjust="spacingAndGlyphs">Stop Loss</text>
<path d="M1159,548.5h3m2.5,0h9.5" stroke="#fff" stroke-width="1" shape-rendering="crispEdges"/>
<rect x="1174.5" y="539.5" width="60" height="18" fill="none" stroke="#fff" stroke-width="1" shape-rendering="crispEdges"/>
<text x="1176.5" y="555" font-size="16.4" textLength="57.5" lengthAdjust="spacingAndGlyphs">1.24370</text>
<text x="1200" y="539" font-size="14.4" textLength="59.5" lengthAdjust="spacingAndGlyphs">Stop Loss</text>
<path d="M1241,542.5h3m2.5,0h9.5" stroke="#fff" stroke-width="1" shape-rendering="crispEdges"/>
<rect x="1256.5" y="533.5" width="60" height="18" fill="none" stroke="#fff" stroke-width="1" shape-rendering="crispEdges"/>
<text x="1258.5" y="549" font-size="16.4" textLength="57.5" lengthAdjust="spacingAndGlyphs">1.24450</text>
<text x="1272" y="546" font-size="14.4" textLength="59.5" lengthAdjust="spacingAndGlyphs">Stop Loss</text>
<path d="M1313,549.5h3m2.5,0h9.5" stroke="#fff" stroke-width="1" shape-rendering="crispEdges"/>
<rect x="1328.5" y="540.5" width="60" height="18" fill="none" stroke="#fff" stroke-width="1" shape-rendering="crispEdges"/>
<text x="1330.5" y="556" font-size="16.4" textLength="57.5" lengthAdjust="spacingAndGlyphs">1.24348</text>
<text x="1137" y="757" font-size="14.4" textLength="65" lengthAdjust="spacingAndGlyphs">Take Profit</text>
<path d="M1183,760.5h3m2.5,0h9.5" stroke="#fff" stroke-width="1" shape-rendering="crispEdges"/>
<rect x="1198.5" y="751.5" width="60" height="18" fill="none" stroke="#fff" stroke-width="1" shape-rendering="crispEdges"/>
<text x="1200.5" y="767" font-size="16.4" textLength="57.5" lengthAdjust="spacingAndGlyphs">1.21148</text>
<text x="1113" y="780" font-size="14.4" textLength="65" lengthAdjust="spacingAndGlyphs">Take Profit</text>
<path d="M1159,783.5h3m2.5,0h9.5" stroke="#fff" stroke-width="1" shape-rendering="crispEdges"/>
<rect x="1174.5" y="774.5" width="60" height="18" fill="none" stroke="#fff" stroke-width="1" shape-rendering="crispEdges"/>
<text x="1176.5" y="790" font-size="16.4" textLength="57.5" lengthAdjust="spacingAndGlyphs">1.20807</text>
<text x="1195" y="793" font-size="14.4" textLength="65" lengthAdjust="spacingAndGlyphs">Take Profit</text>
<path d="M1241,796.5h3m2.5,0h9.5" stroke="#fff" stroke-width="1" shape-rendering="crispEdges"/>
<rect x="1256.5" y="787.5" width="60" height="18" fill="none" stroke="#fff" stroke-width="1" shape-rendering="crispEdges"/>
<text x="1258.5" y="803" font-size="16.4" textLength="57.5" lengthAdjust="spacingAndGlyphs">1.20615</text>
<text x="1584" y="675" font-size="14.4" textLength="59.5" lengthAdjust="spacingAndGlyphs">Stop Loss</text>
<path d="M1625,678.5h3m2.5,0h9.5" stroke="#fff" stroke-width="1" shape-rendering="crispEdges"/>
<rect x="1640.5" y="669.5" width="60" height="18" fill="none" stroke="#fff" stroke-width="1" shape-rendering="crispEdges"/>
<text x="1642.5" y="685" font-size="16.4" textLength="57.5" lengthAdjust="spacingAndGlyphs">1.22398</text>
<text x="1267" y="864.6" font-size="14.4" textLength="65" lengthAdjust="spacingAndGlyphs">Take Profit</text>
</g>
<text x="1656" y="860.8" font-size="20" fill="#ffff00" textLength="62.5" lengthAdjust="spacingAndGlyphs">-7.91%</text>
<path d="M2.5,2V868M2,2.5H1845M1844.5,2V868M2,867.5H1845" stroke="#fff" stroke-width="1" fill="none" shape-rendering="crispEdges"/>
<path d="M1845,52.5h2M1845,117.5h2M1845,182.5h2M1845,247.5h2M1845,312.5h2M1845,377.5h2M1845,442.5h2M1845,507.5h2M1845,572.5h2M1845,637.5h2M1845,702.5h2M1845,767.5h2" stroke="#fff" stroke-width="1" shape-rendering="crispEdges"/>
<g fill="#fff" font-size="14.4">
<text x="1852" y="57.5" textLength="50.5" lengthAdjust="spacingAndGlyphs">1.31870</text>
<text x="1852" y="122.5" textLength="50.5" lengthAdjust="spacingAndGlyphs">1.30895</text>
<text x="1852" y="187.5" textLength="50.5" lengthAdjust="spacingAndGlyphs">1.29905</text>
<text x="1852" y="252.5" textLength="50.5" lengthAdjust="spacingAndGlyphs">1.28915</text>
<text x="1852" y="317.5" textLength="50.5" lengthAdjust="spacingAndGlyphs">1.27940</text>
<text x="1852" y="382.5" textLength="50.5" lengthAdjust="spacingAndGlyphs">1.26950</text>
<text x="1852" y="447.5" textLength="50.5" lengthAdjust="spacingAndGlyphs">1.25975</text>
<text x="1852" y="512.5" textLength="50.5" lengthAdjust="spacingAndGlyphs">1.24985</text>
<text x="1852" y="577.5" textLength="50.5" lengthAdjust="spacingAndGlyphs">1.23995</text>
<text x="1852" y="642.5" textLength="50.5" lengthAdjust="spacingAndGlyphs">1.23020</text>
<text x="1852" y="707.5" textLength="50.5" lengthAdjust="spacingAndGlyphs">1.22030</text>
<text x="1852" y="772.5" textLength="50.5" lengthAdjust="spacingAndGlyphs">1.21040</text>
</g>
<path d="M3.5,868v3M131.5,868v3M259.5,868v3M387.5,868v3M515.5,868v3M643.5,868v3M771.5,868v3M899.5,868v3M1027.5,868v3M1155.5,868v3M1283.5,868v3M1411.5,868v3M1539.5,868v3" stroke="#fff" stroke-width="1" shape-rendering="crispEdges"/>
<g fill="#fff" font-size="14">
<text x="3" y="884.3" textLength="69" lengthAdjust="spacingAndGlyphs">5 Mar 2020</text>
<text x="131" y="884.3" textLength="74" lengthAdjust="spacingAndGlyphs">6 Mar 13:45</text>
<text x="259" y="884.3" textLength="74" lengthAdjust="spacingAndGlyphs">9 Mar 05:45</text>
<text x="387" y="884.3" textLength="74" lengthAdjust="spacingAndGlyphs">9 Mar 21:45</text>
<text x="515" y="884.3" textLength="81" lengthAdjust="spacingAndGlyphs">10 Mar 13:45</text>
<text x="643" y="884.3" textLength="81" lengthAdjust="spacingAndGlyphs">11 Mar 05:45</text>
<text x="771" y="884.3" textLength="81" lengthAdjust="spacingAndGlyphs">11 Mar 21:45</text>
<text x="899" y="884.3" textLength="81" lengthAdjust="spacingAndGlyphs">12 Mar 13:45</text>
<text x="1027" y="884.3" textLength="81" lengthAdjust="spacingAndGlyphs">13 Mar 05:45</text>
<text x="1155" y="884.3" textLength="81" lengthAdjust="spacingAndGlyphs">13 Mar 21:45</text>
<text x="1283" y="884.3" textLength="82" lengthAdjust="spacingAndGlyphs">16 Mar 14:30</text>
<text x="1411" y="884.3" textLength="82" lengthAdjust="spacingAndGlyphs">17 Mar 06:30</text>
<text x="1539" y="884.3" textLength="82" lengthAdjust="spacingAndGlyphs">17 Mar 22:30</text>
</g>
<text x="1852" y="838.4" font-size="13.6" fill="#fff" textLength="50.5" lengthAdjust="spacingAndGlyphs">1.20065</text>
<rect x="1846" y="830" width="62" height="17" fill="#fff"/>
<text x="1852" y="843.6" font-size="14.4" fill="#06262e" textLength="50.5" lengthAdjust="spacingAndGlyphs">1.19966</text>
<path d="M6,10.5H17L11.5,17Z" fill="#fff"/>
<text x="24.3" y="18.8" font-size="14" fill="#fff" textLength="81" lengthAdjust="spacingAndGlyphs">GBPUSD,M15</text>
<text x="115" y="18.8" font-size="14" fill="#fff" textLength="218.5" lengthAdjust="spacingAndGlyphs">1.19906 1.19968 1.19905 1.19966</text>
<text x="7.8" y="34.8" font-size="12.3" fill="#fff">©</text>
<text x="23.3" y="34.8" font-size="12.3" fill="#fff" textLength="252.7" lengthAdjust="spacing">BEST-FOREX-INDICATORS.COM</text>
<rect x="1624.5" y="13.5" width="209" height="179" fill="#06262e" stroke="#fff" stroke-width="1" shape-rendering="crispEdges"/>
<rect x="1622" y="11" width="5" height="5" fill="#fff" shape-rendering="crispEdges"/>
<text x="1638.5" y="36.4" font-size="12.6" font-weight="bold" fill="#ff7f50" stroke="#ff7f50" stroke-width="0.8" textLength="156" lengthAdjust="spacing">POTENTIAL BREAKOUT</text>
<path d="M1800,27.3L1808.6,35.9M1802,35.9H1809.9V28" stroke="#ff7f50" stroke-width="3.1" fill="none"/>
<g fill="#fff" font-size="12">
<text x="1638" y="64.8">Volume:</text><text x="1758.5" y="64.8">0.12 Lots</text>
<text x="1638" y="82.4">Stop Loss:</text><text x="1758.5" y="82.4">1.22398</text>
<text x="1638" y="99.4">Take Profit:</text><text x="1758.5" y="99.4">1.17777</text>
<text x="1638" y="116.4">Price:</text><text x="1758.5" y="116.4">1.20550</text>
<text x="1638" y="146.4">Profit</text><text x="1755" y="146.4">Loss</text>
<text x="1638" y="174.4">2773 Pips</text><text x="1737" y="174.4">1848 Pips</text>
</g>
<g shape-rendering="crispEdges"><rect x="1640" y="152" width="6" height="6" fill="#ffa500"/><rect x="1647" y="152" width="6" height="6" fill="#ffa500"/><rect x="1654" y="152" width="6" height="6" fill="#ffa500"/><rect x="1661" y="152" width="6" height="6" fill="#ffa500"/><rect x="1668" y="152" width="6" height="6" fill="#ffa500"/><rect x="1675" y="152" width="6" height="6" fill="#ffa500"/><rect x="1682" y="152" width="6" height="6" fill="#ffa500"/><rect x="1689" y="152" width="6" height="6" fill="#ffa500"/><rect x="1696" y="152" width="6" height="6" fill="#ffa500"/><rect x="1703" y="152" width="6" height="6" fill="#ffa500"/><rect x="1710" y="152" width="6" height="6" fill="#ffa500"/><rect x="1717" y="152" width="6" height="6" fill="#ffa500"/><rect x="1724" y="152" width="6" height="6" fill="#ffa500"/><rect x="1731" y="152" width="6" height="6" fill="#fff"/><rect x="1738" y="152" width="6" height="6" fill="#fff"/><rect x="1745" y="152" width="6" height="6" fill="#fff"/><rect x="1752" y="152" width="6" height="6" fill="#fff"/><rect x="1759" y="152" width="6" height="6" fill="#fff"/><rect x="1766" y="152" width="6" height="6" fill="#fff"/><rect x="1773" y="152" width="6" height="6" fill="#fff"/><rect x="1780" y="152" width="6" height="6" fill="#fff"/></g>
</svg>
</body></html>
